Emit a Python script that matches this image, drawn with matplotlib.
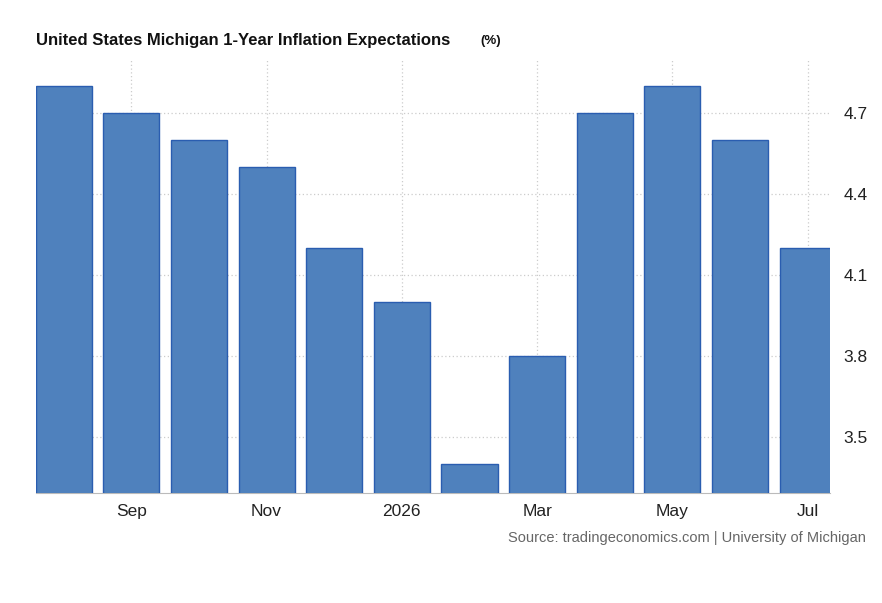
import matplotlib.pyplot as plt

months = ['Aug', 'Sep', 'Oct', 'Nov', 'Dec', '2026', 'Feb', 'Mar', 'Apr', 'May', 'Jun', 'Jul']
values = [4.8, 4.7, 4.6, 4.5, 4.2, 4.0, 3.4, 3.8, 4.7, 4.8, 4.6, 4.2]
tick_idx = [1, 3, 5, 7, 9, 11]
y_ticks = [3.5, 3.8, 4.1, 4.4, 4.7]

plt.rcParams['font.family'] = ['Liberation Sans', 'DejaVu Sans']

fig = plt.figure(figsize=(8.82, 6.03), dpi=100)
ax = fig.add_axes([0.0408, 0.1824, 0.9002, 0.7181])

x = list(range(len(values)))
ax.bar(x, values, width=0.83, color='#4f81bd', edgecolor='#2a5db0', linewidth=1, zorder=3)

ax.set_xlim(-0.41, 11.33)
ax.set_ylim(3.293, 4.896)
ax.set_xticks(tick_idx)
ax.set_xticklabels([months[i] for i in tick_idx])
ax.set_yticks(y_ticks)
ax.set_yticklabels([f'{v:.1f}' for v in y_ticks])
ax.yaxis.tick_right()
ax.tick_params(axis='both', length=0, labelsize=12.5, colors='#222222', pad=8)
ax.tick_params(axis='y', pad=10)

ax.grid(True, linestyle=(0, (1, 2)), color='#cccccc', linewidth=0.9, zorder=0)
for s in ['top', 'left', 'right']:
    ax.spines[s].set_visible(False)
ax.spines['bottom'].set_color('#bbbbbb')

fig.text(36 / 882, 1 - 40 / 603, 'United States Michigan 1-Year Inflation Expectations', fontsize=12,
         fontweight='bold', va='center', ha='left', color='#111111')
fig.text(480 / 882, 1 - 41 / 603, '(%)', fontsize=9.5, fontweight='bold', va='center', ha='left', color='#111111')
fig.text(866 / 882, 1 - 538 / 603, 'Source: tradingeconomics.com | University of Michigan', fontsize=10.5,
         color='#666666', ha='right', va='center')

fig.savefig('out.png', dpi=100)
